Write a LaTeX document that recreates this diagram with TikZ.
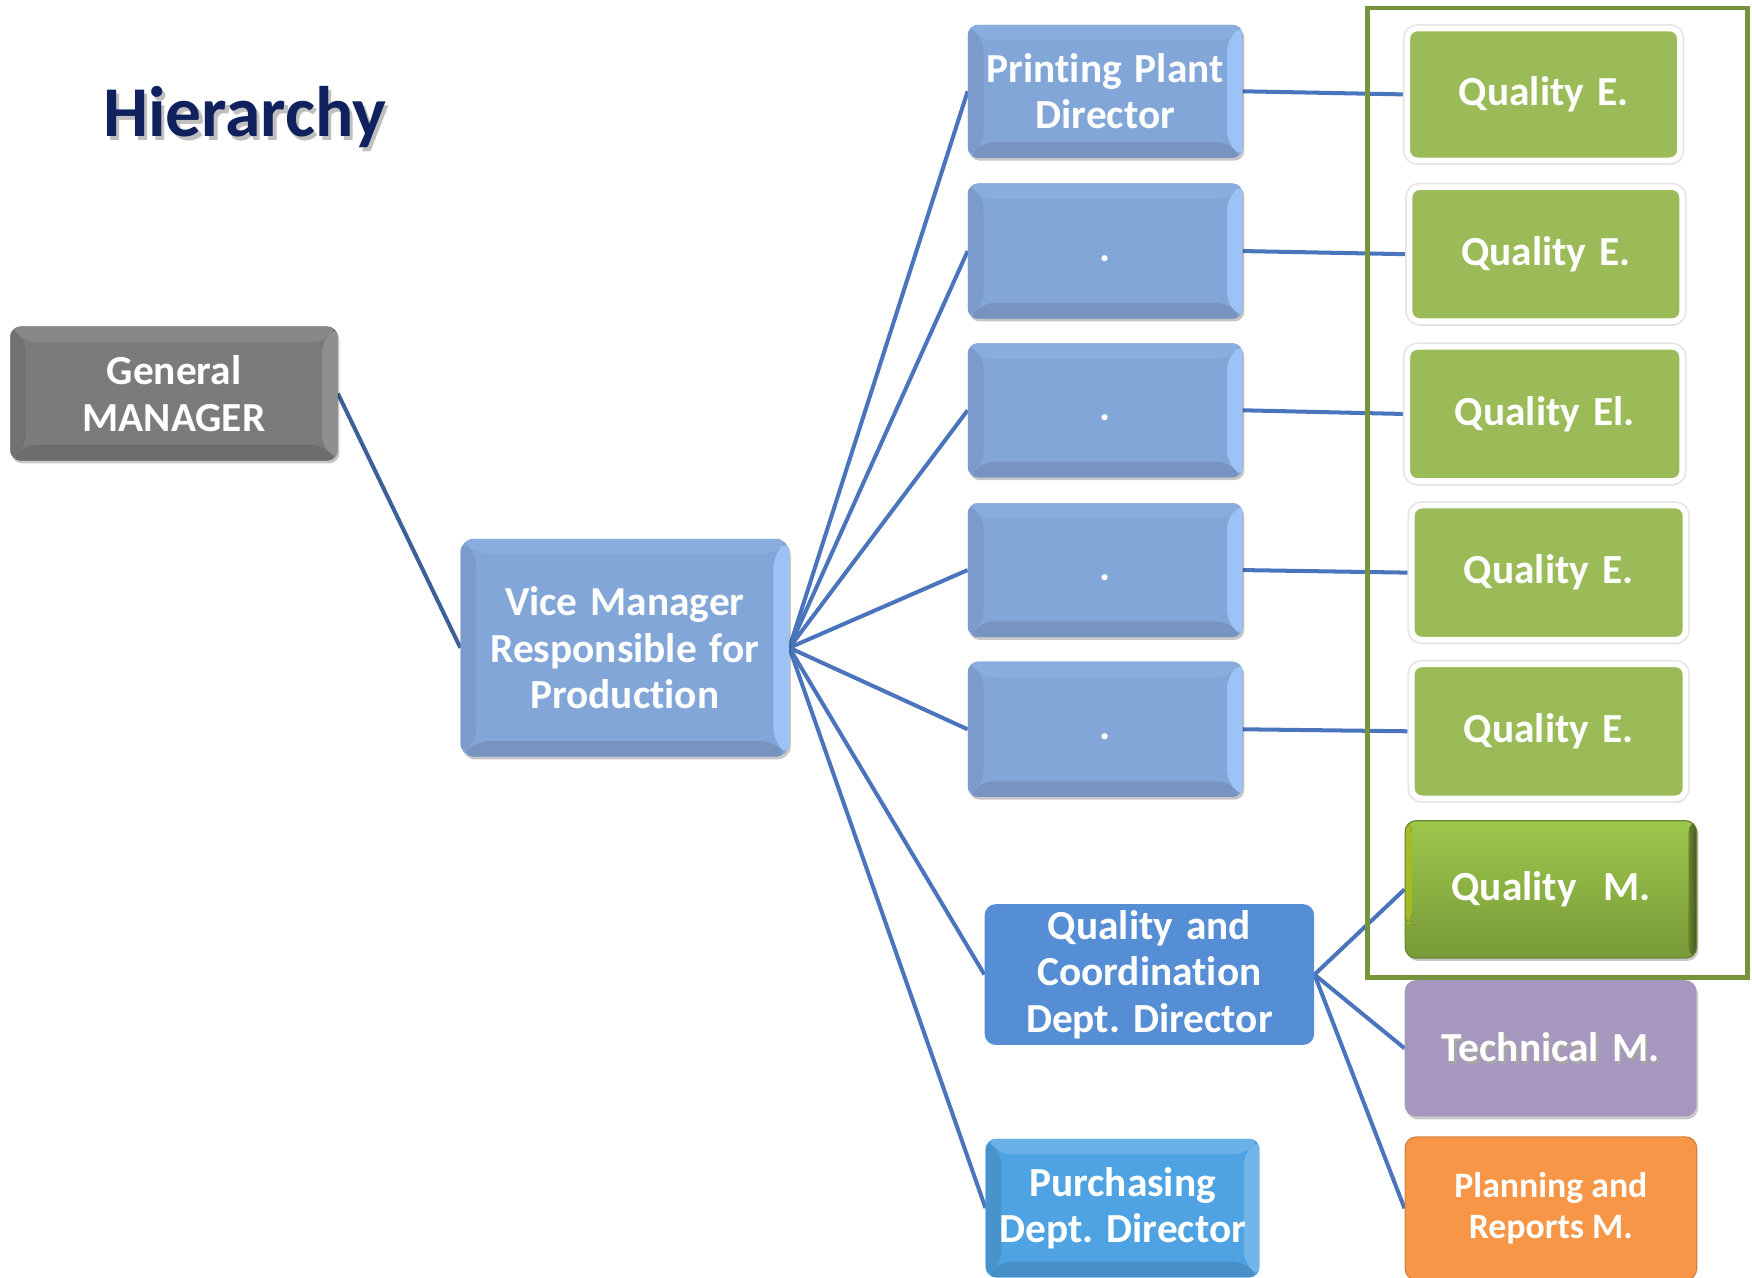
\documentclass[tikz,border=0pt]{standalone}
\usepackage{fontspec}
\setmainfont{Carlito}[WordSpace=1.4, Ligatures=NoCommon]
\newfontfamily\tightfont{Carlito}[Ligatures=NoCommon]
\usetikzlibrary{shadows}
\pgfdeclarelayer{bg}
\pgfsetlayers{bg,main}
\frenchspacing
\definecolor{titlecol}{HTML}{10215E}
\definecolor{gmbase}{HTML}{7B7B7B}
\definecolor{bluebase}{HTML}{83A6D8}
\definecolor{blueR}{HTML}{9CC3F6}
\definecolor{blueB}{HTML}{7893BF}
\definecolor{blueL}{HTML}{7A9BCB}
\definecolor{blueT}{HTML}{8AADE0}
\definecolor{qcdcol}{HTML}{558ED5}
\definecolor{purbase}{HTML}{4FA3E2}
\definecolor{greenbase}{HTML}{9BBB59}
\definecolor{qmtop}{HTML}{9DC64C}
\definecolor{qmbot}{HTML}{789A38}
\definecolor{techcol}{HTML}{A697BE}
\definecolor{plancol}{HTML}{F79646}
\definecolor{framecol}{HTML}{77933C}
\definecolor{linecol}{HTML}{4A75BC}
\definecolor{gmline}{HTML}{3D6196}
\tikzset{
  bevel/.style n args={4}{path picture={
    \coordinate (pSW) at (path picture bounding box.south west);
    \coordinate (pNE) at (path picture bounding box.north east);
    \coordinate (pSE) at (pSW -| pNE);
    \coordinate (pNW) at (pNE -| pSW);
    \fill[#2] (pNW) -- (pNE) -- ([shift={(-14pt,-14pt)}]pNE) -- ([shift={(14pt,-14pt)}]pNW) -- cycle;
    \fill[#4] (pSW) -- (pSE) -- ([shift={(-14pt,14pt)}]pSE) -- ([shift={(14pt,14pt)}]pSW) -- cycle;
    \fill[#1] (pSW) -- (pNW) -- ([shift={(14pt,-14pt)}]pNW) -- ([shift={(14pt,14pt)}]pSW) -- cycle;
    \fill[#3] (pSE) -- (pNE) -- ([shift={(-14pt,-14pt)}]pNE) -- ([shift={(-14pt,14pt)}]pSE) -- cycle;
  }},
  sz/.style 2 args={minimum width=#1pt, minimum height=#2pt},
  box/.style={rectangle, rounded corners=9pt, inner sep=0pt, anchor=north west,
    text=white, align=center, font=\bfseries\fontsize{37}{41.5}\selectfont},
  softshadow/.style={drop shadow={shadow xshift=1.5pt, shadow yshift=-2.5pt, opacity=0.22, fill=black}},
  gmbox/.style={box, fill=gmbase, bevel={gmbase!92!black}{gmbase!90!white}{gmbase!85!white}{gmbase!88!black}, softshadow},
  bluebox/.style={box, fill=bluebase, bevel={blueL}{blueT}{blueR}{blueB}, softshadow},
  qcdbox/.style={box, fill=qcdcol, rounded corners=10pt},
  purbox/.style={box, fill=purbase, bevel={purbase!90!black}{purbase!85!white}{purbase!80!white}{purbase!88!black}},
  greenbox/.style={box, fill=greenbase, draw=white, line width=5pt, rounded corners=9pt,
    drop shadow={shadow xshift=1pt, shadow yshift=-4pt, opacity=0.25, fill=black},
    preaction={draw=black!10, line width=8pt}},
  qmbox/.style={box, top color=qmtop, bottom color=qmbot, draw=qmbot!85!black, line width=1pt,
    rounded corners=10pt, softshadow,
    path picture={
      \fill[left color=qmtop!55!yellow, right color=qmtop, opacity=0.8]
        ([yshift=30pt]path picture bounding box.south west) rectangle ([xshift=6pt]path picture bounding box.north west);
      \fill[left color=qmbot, right color=qmbot!65!black, opacity=0.8]
        ([xshift=-7pt]path picture bounding box.south east) rectangle (path picture bounding box.north east);
    }},
  techbox/.style={box, fill=techcol, rounded corners=10pt, softshadow},
  planbox/.style={box, fill=plancol, draw=plancol!85!black, line width=1pt, rounded corners=10pt,
    font=\tightfont\bfseries\fontsize{32}{37}\selectfont},
  conn/.style={draw=linecol, line width=3.6pt},
  frame/.style={draw=framecol, line width=4pt, inner sep=0pt, anchor=north west, rectangle},
}
\begin{document}
\begin{tikzpicture}[x=1pt,y=-1pt]
\useasboundingbox (0,0) rectangle (1568,1143);

% title
\node[anchor=base west, inner sep=0pt, text=titlecol, font=\bfseries\fontsize{64}{70}\selectfont] (title) at (92,122)
  {\makebox[0pt][l]{\hspace*{3pt}\raisebox{-4pt}{\textcolor{black!25}{Hierarchy}}}Hierarchy};

% main nodes
\node[gmbox, sz={293}{120}] (gm) at (9,292) {General\\MANAGER};
\node[bluebox, sz={294}{195}, rounded corners=12pt] (vm) at (412,482) {Vice Manager\\Responsible for\\Production};

\node[bluebox, sz={246}{119}] (ppd) at (866,22) {Printing Plant\\Director};
\node[bluebox, sz={246}{121}] (b2) at (866,164) {\vphantom{Qy}.};
\node[bluebox, sz={246}{120}] (b3) at (866,307) {\vphantom{Qy}.};
\node[bluebox, sz={246}{120}] (b4) at (866,450) {\vphantom{Qy}.};
\node[bluebox, sz={246}{121}] (b5) at (866,592) {\vphantom{Qy}.};

\node[qcdbox, sz={295}{126}] (qcd) at (881,809) {Quality and\\Coordination\\Dept. Director};
\node[purbox, sz={245}{124}] (pur) at (882,1019) {Purchasing\\Dept. Director};

\node[greenbox, sz={244}{118}] (g1) at (1257,23) {Quality E.};
\node[greenbox, sz={244}{120}] (g2) at (1259,165) {Quality E.};
\node[greenbox, sz={246}{120}] (g3) at (1257,308) {Quality El.};
\node[greenbox, sz={245}{120}] (g4) at (1261,450) {Quality E.};
\node[greenbox, sz={245}{120}] (g5) at (1261,592) {Quality E.};

\node[qmbox, sz={261}{123}] (qm) at (1257,734) {Quality\hspace{12pt} M.};
\node[techbox, sz={261}{122}] (tech) at (1257,877)
  {\makebox[0pt][l]{\hspace*{2pt}\raisebox{-2.5pt}{\textcolor{black!35}{Technical M.}}}Technical M.};
\node[planbox, sz={261}{128}] (plan) at (1257,1017) {Planning and\\Reports M.};

\node[frame, sz={340}{868}] (grp) at (1222,5) {};

% connectors
\begin{pgfonlayer}{bg}
\draw[conn, draw=gmline] (gm.east) -- (vm.west);
\foreach \t in {ppd,b2,b3,b4,b5,qcd,pur}
  \draw[conn] (vm.east) -- (\t.west);
\draw[conn] (ppd.east) -- (g1.west);
\draw[conn] (b2.east) -- (g2.west);
\draw[conn] (b3.east) -- (g3.west);
\draw[conn] (b4.east) -- (g4.west);
\draw[conn] (b5.east) -- (g5.west);
\draw[conn] (qcd.east) -- (qm.west);
\draw[conn] (qcd.east) -- (tech.west);
\draw[conn] (qcd.east) -- (plan.west);
\end{pgfonlayer}
\end{tikzpicture}
\end{document}
